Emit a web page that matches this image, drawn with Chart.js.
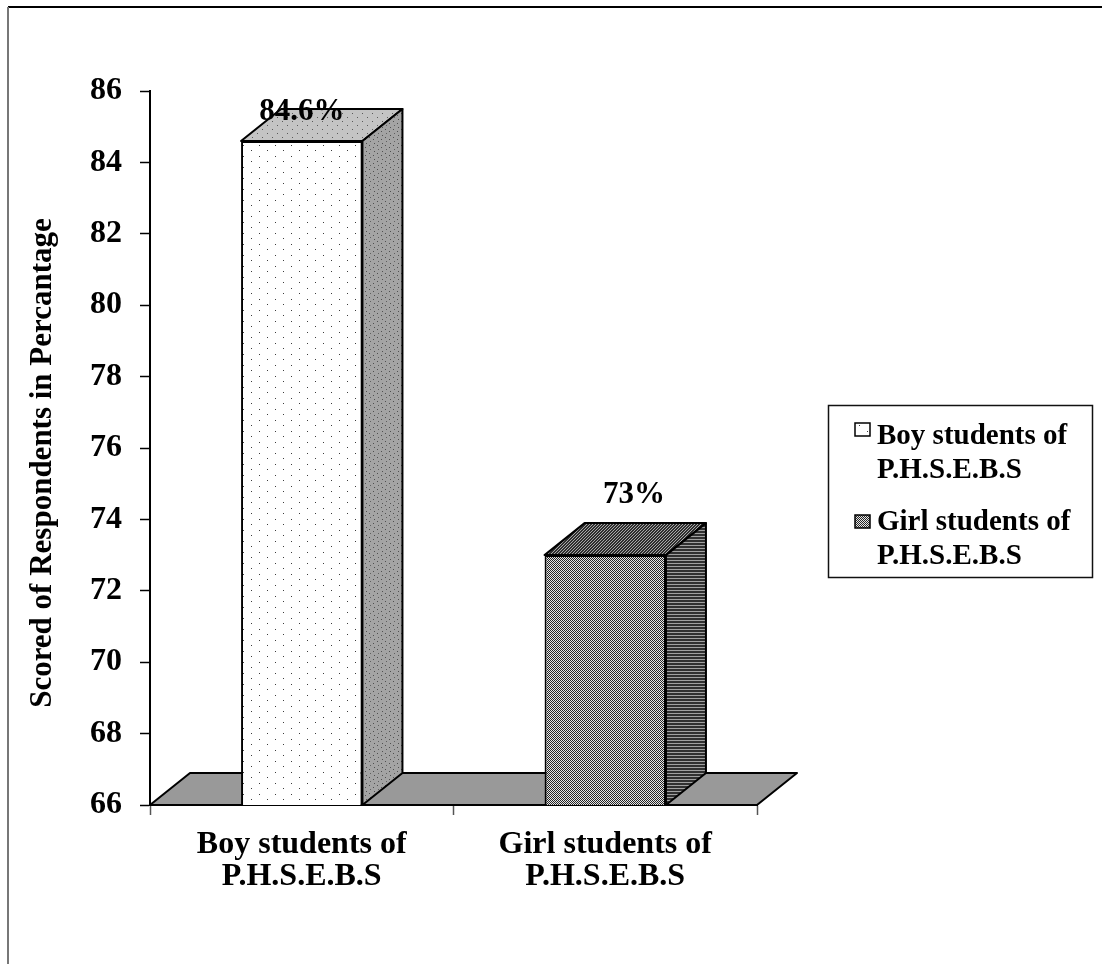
<!DOCTYPE html>
<html>
<head>
<meta charset="utf-8">
<script src="https://cdn.jsdelivr.net/npm/chart.js@4"></script>
<style>
  html, body { margin: 0; padding: 0; background: #fff; }
  canvas { display: block; }
</style>
</head>
<body>
<canvas id="chart" width="1102" height="964"></canvas>
<script>
// Data
const categories = [['Boy students of', 'P.H.S.E.B.S'], ['Girl students of', 'P.H.S.E.B.S']];
const scores = [84.6, 73];
const axisMin = 66;
const axisMax = 86;
const axisStep = 2;
const axisTitle = 'Scored of Respondents in Percantage';

// Styling
const SERIF = '"Liberation Serif", "Times New Roman", Times, serif';
const DEPTH_X = 40;
const DEPTH_Y = 32;

const canvas = document.getElementById('chart');
const ctx = canvas.getContext('2d');

function makePattern(w, h, bg, marks) {
  const c = document.createElement('canvas');
  c.width = w; c.height = h;
  const g = c.getContext('2d');
  g.fillStyle = bg;
  g.fillRect(0, 0, w, h);
  marks.forEach(([x, y, col]) => { g.fillStyle = col; g.fillRect(x, y, 1, 1); });
  return ctx.createPattern(c, 'repeat');
}

function diagTile(w, h, bg, fg, test) {
  const marks = [];
  for (let y = 0; y < h; y++) for (let x = 0; x < w; x++) if (test(x, y)) marks.push([x, y, fg]);
  return makePattern(w, h, bg, marks);
}

// Fill patterns: front, top and side face of each block
const fills = [
  {
    front: makePattern(16, 11, '#ffffff', [[3, 2, '#3c3c3c'], [11, 7, '#3c3c3c']]),
    top: makePattern(10, 8, '#c4c4c4', [[2, 1, '#5a5a5a'], [7, 5, '#5a5a5a']]),
    side: makePattern(8, 8, '#a4a4a4', [[1, 1, '#505050'], [5, 3, '#505050'], [2, 5, '#606060'], [6, 7, '#505050']])
  },
  {
    front: diagTile(2, 2, '#e6e6e6', '#262626', (x, y) => (x + y) % 2 === 0),
    top: diagTile(3, 3, '#a8a8a8', '#2e2e2e', (x, y) => (x + y) % 3 !== 0),
    side: diagTile(4, 3, '#a0a0a0', '#303030', (x, y) => y !== 2)
  }
];

const fmtPct = v => v + '%';

const depthPlugin = {
  id: 'depth',
  beforeDraw(chart) {
    const c = chart.ctx;
    c.save();
    c.lineWidth = 2;
    c.strokeStyle = '#000';
    c.beginPath(); c.moveTo(8, 7); c.lineTo(chart.width, 7); c.stroke();
    c.strokeStyle = '#777';
    c.beginPath(); c.moveTo(8, 7); c.lineTo(8, chart.height); c.stroke();
    c.restore();
  },
  beforeDatasetsDraw(chart) {
    const a = chart.chartArea;
    const c = chart.ctx;
    c.save();
    c.beginPath();
    c.moveTo(a.left, a.bottom);
    c.lineTo(a.left + DEPTH_X, a.bottom - DEPTH_Y);
    c.lineTo(a.right + DEPTH_X, a.bottom - DEPTH_Y);
    c.lineTo(a.right, a.bottom);
    c.closePath();
    c.fillStyle = '#999999';
    c.fill();
    c.lineWidth = 2;
    c.strokeStyle = '#000';
    c.lineJoin = 'round';
    c.stroke();
    c.restore();
  },
  afterDatasetsDraw(chart) {
    const c = chart.ctx;
    const a = chart.chartArea;
    const meta = chart.getDatasetMeta(0);
    c.save();
    c.lineWidth = 2;
    c.strokeStyle = '#000';
    c.lineJoin = 'round';
    meta.data.forEach((el, i) => {
      const p = el.getProps(['x', 'y', 'base', 'width'], true);
      const x = p.x, y = p.y, w = p.width;
      const base = Math.min(p.base, a.bottom);
      const l = x - w / 2, r = x + w / 2;
      // top face
      c.beginPath();
      c.moveTo(l, y);
      c.lineTo(l + DEPTH_X, y - DEPTH_Y);
      c.lineTo(r + DEPTH_X, y - DEPTH_Y);
      c.lineTo(r, y);
      c.closePath();
      c.fillStyle = fills[i].top;
      c.fill();
      c.stroke();
      // side face
      c.beginPath();
      c.moveTo(r, y);
      c.lineTo(r + DEPTH_X, y - DEPTH_Y);
      c.lineTo(r + DEPTH_X, base - DEPTH_Y);
      c.lineTo(r, base);
      c.closePath();
      c.fillStyle = fills[i].side;
      c.fill();
      c.stroke();
    });
    // value labels above each block, kept inside the plot area
    c.font = 'bold 31px ' + SERIF;
    c.fillStyle = '#000';
    c.textAlign = 'center';
    c.textBaseline = 'middle';
    meta.data.forEach((el, i) => {
      const { x, y } = el.getProps(['x', 'y'], true);
      let ty = y - DEPTH_Y - 28;
      let tx = x + DEPTH_X * 0.72;
      if (ty < a.top + 21) { ty = a.top + 21; tx = x; }
      c.fillText(fmtPct(scores[i]), tx, ty);
    });
    c.restore();
  },
  afterDraw(chart) {
    const c = chart.ctx;
    const a = chart.chartArea;
    c.save();
    // vertical axis title
    c.translate(43, (a.top + a.bottom) / 2 + 15);
    c.rotate(-Math.PI / 2);
    c.font = 'bold 31px ' + SERIF;
    c.fillStyle = '#000';
    c.textAlign = 'center';
    c.textBaseline = 'middle';
    c.fillText(axisTitle, 0, 0);
    c.restore();

    c.save();
    // legend box
    c.lineWidth = 1.5;
    c.strokeStyle = '#111';
    c.strokeRect(828.5, 405.5, 264, 172);
    const entries = [
      { sy: 423, base: 444 },
      { sy: 515, base: 530 }
    ];
    c.font = 'bold 29px ' + SERIF;
    c.textAlign = 'left';
    c.textBaseline = 'alphabetic';
    categories.forEach((lines, i) => {
      const e = entries[i];
      c.fillStyle = fills[i].front;
      c.fillRect(855, e.sy, 15, 13);
      c.lineWidth = 1.5;
      c.strokeStyle = '#000';
      c.strokeRect(855, e.sy, 15, 13);
      c.fillStyle = '#000';
      lines.forEach((t, k) => c.fillText(t, 877, e.base + k * 34));
    });
    c.restore();
  }
};

new Chart(canvas, {
  type: 'bar',
  data: {
    labels: categories,
    datasets: [{
      data: scores,
      backgroundColor: fills.map(f => f.front),
      borderColor: '#000',
      borderWidth: 2,
      borderSkipped: false,
      barPercentage: 0.4,
      categoryPercentage: 1.0
    }]
  },
  options: {
    responsive: false,
    animation: false,
    devicePixelRatio: 1,
    layout: { padding: { left: 0, right: 345, top: 91, bottom: 59 } },
    plugins: {
      legend: { display: false },
      tooltip: { enabled: false }
    },
    scales: {
      x: {
        afterFit(scale) { scale.height = 100; },
        grid: {
          offset: true,
          drawOnChartArea: false,
          drawTicks: true,
          tickLength: 10,
          tickWidth: 1.5,
          tickColor: '#555'
        },
        border: { display: true, color: '#000', width: 2 },
        ticks: {
          color: '#000',
          padding: 14,
          maxRotation: 0,
          autoSkip: false,
          font: { family: SERIF, size: 32, weight: 'bold', lineHeight: '32px' }
        }
      },
      y: {
        min: axisMin,
        max: axisMax,
        afterFit(scale) { scale.width = 150; },
        grid: {
          drawOnChartArea: false,
          drawTicks: true,
          tickLength: 10,
          tickWidth: 1.5,
          tickColor: '#000'
        },
        border: { display: true, color: '#000', width: 2 },
        ticks: {
          stepSize: axisStep,
          color: '#000',
          padding: 18,
          font: { family: SERIF, size: 32, weight: 'bold' }
        },
        title: { display: false }
      }
    }
  },
  plugins: [depthPlugin]
});
</script>
</body>
</html>
